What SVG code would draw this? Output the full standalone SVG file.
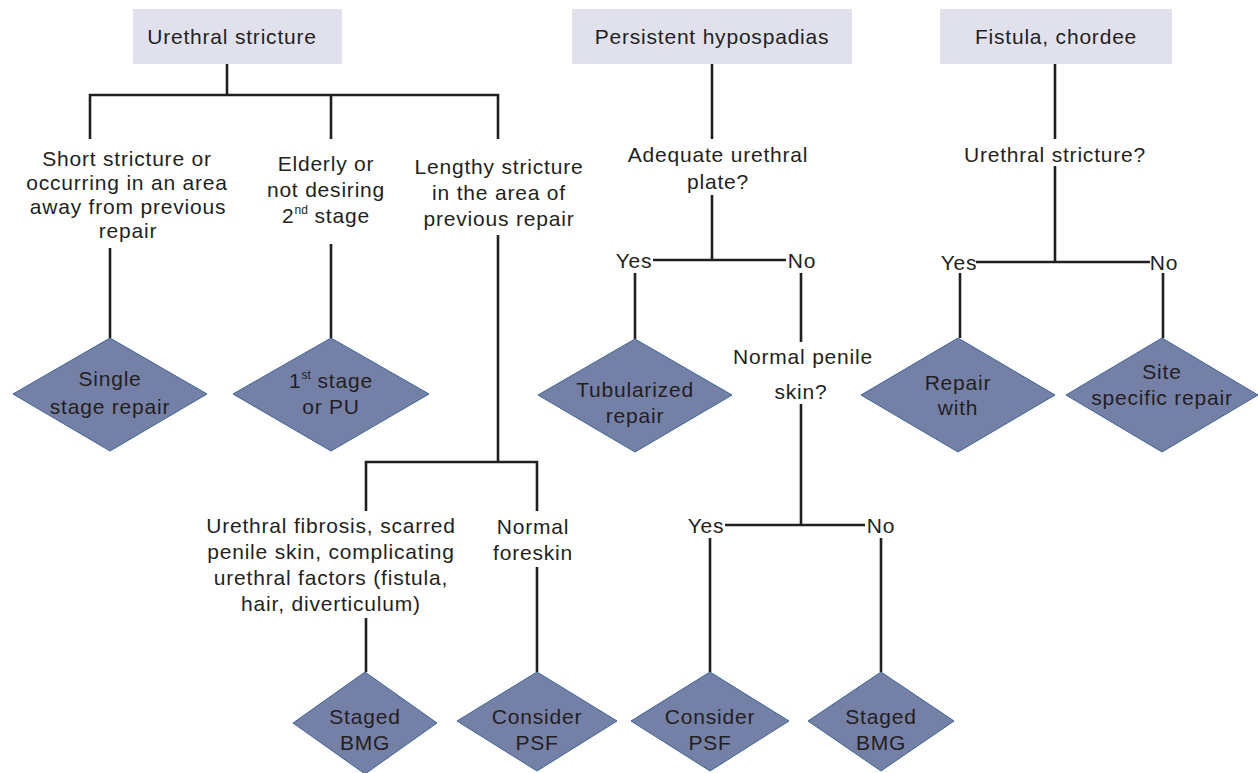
<svg xmlns="http://www.w3.org/2000/svg" width="1258" height="773" viewBox="0 0 1258 773">
<style>
text{font-family:"Liberation Sans",Arial,Helvetica,sans-serif;font-size:21px;fill:#231f20;text-anchor:middle;letter-spacing:0.8px}
.box{fill:#e1e1ee}
.dia{fill:#7580a7;stroke:#3f6497;stroke-width:1}
.con{stroke:#231f20;stroke-width:2.6;fill:none}
.sup{font-size:12px;letter-spacing:0}
</style>
<rect width="1258" height="773" fill="#ffffff"/>
<g id="connectors" class="con">
<path d="M227 64V95M90 139V95H498V139M331 95V139"/>
<path d="M110 248V338M331 244V338M498 235V462"/>
<path d="M366 511V462H537V511M366 618V672M537 567V672"/>
<path d="M712 64V139M712 195V260M653 260H786M635 273V339M801 273V342M801 404V525M725 525H865M710 538V672M881 538V672"/>
<path d="M1055 64V139M1055 166V262M976 262H1150M960 273V338M1163 273V338"/>
</g>
<g id="n_urethral_stricture"><rect class="box" x="133" y="9" width="209" height="55"/><text x="232" y="44">Urethral stricture</text></g>
<g id="n_persistent"><rect class="box" x="572" y="9" width="280" height="55"/><text x="712" y="44">Persistent hypospadias</text></g>
<g id="n_fistula"><rect class="box" x="940" y="9" width="232" height="55"/><text x="1056" y="44">Fistula, chordee</text></g>
<g id="n_short"><text x="127" y="166">Short stricture or</text><text x="127" y="190">occurring in an area</text><text x="128" y="214">away from previous</text><text x="128" y="238">repair</text></g>
<g id="n_elderly"><text x="326" y="171">Elderly or</text><text x="326" y="197">not desiring</text><text x="326" y="223">2<tspan class="sup" dy="-9">nd</tspan><tspan dy="9">  stage</tspan></text></g>
<g id="n_lengthy"><text x="499" y="174">Lengthy stricture</text><text x="499" y="200">in the area of</text><text x="499" y="226">previous repair</text></g>
<g id="n_single"><polygon class="dia" points="110,338 207,394 110,451 13,394"/><text x="110" y="386">Single</text><text x="110" y="414">stage repair</text></g>
<g id="n_first"><polygon class="dia" points="331,338 429,394 331,451 233,394"/><text x="331" y="388">1<tspan class="sup" dy="-9">st</tspan><tspan dy="9"> stage</tspan></text><text x="331" y="414">or PU</text></g>
<g id="n_fibrosis"><text x="331" y="533">Urethral fibrosis, scarred</text><text x="331" y="559">penile skin, complicating</text><text x="331" y="585">urethral factors (fistula,</text><text x="331" y="611">hair, diverticulum)</text></g>
<g id="n_foreskin"><text x="533" y="534">Normal</text><text x="533" y="560">foreskin</text></g>
<g id="n_staged1"><polygon class="dia" points="365,672 437,723 365,774 293,723"/><text x="365" y="724">Staged</text><text x="365" y="750">BMG</text></g>
<g id="n_psf1"><polygon class="dia" points="537,672 617,721 537,771 457,721"/><text x="537" y="724">Consider</text><text x="537" y="750">PSF</text></g>
<g id="n_adequate"><text x="718" y="162">Adequate urethral</text><text x="718" y="189">plate?</text></g>
<g id="n_yes1"><text x="634" y="268">Yes</text></g>
<g id="n_no1"><text x="802" y="268">No</text></g>
<g id="n_tubularized"><polygon class="dia" points="635,339 732,395 635,452 538,395"/><text x="635" y="397">Tubularized</text><text x="635" y="423">repair</text></g>
<g id="n_penile"><text x="803" y="364">Normal penile</text><text x="801" y="399">skin?</text></g>
<g id="n_yes2"><text x="706" y="533">Yes</text></g>
<g id="n_no2"><text x="881" y="533">No</text></g>
<g id="n_psf2"><polygon class="dia" points="710,672 789,721 710,771 631,721"/><text x="710" y="724">Consider</text><text x="710" y="750">PSF</text></g>
<g id="n_staged2"><polygon class="dia" points="881,672 954,721 881,771 808,721"/><text x="881" y="724">Staged</text><text x="881" y="750">BMG</text></g>
<g id="n_stricture_q"><text x="1055" y="162">Urethral stricture?</text></g>
<g id="n_yes3"><text x="959" y="270">Yes</text></g>
<g id="n_no3"><text x="1164" y="270">No</text></g>
<g id="n_repair_with"><polygon class="dia" points="958,338 1055,395 958,452 861,395"/><text x="958" y="390">Repair</text><text x="958" y="415">with</text></g>
<g id="n_site"><polygon class="dia" points="1162,338 1258,395 1162,452 1066,395"/><text x="1162" y="379">Site</text><text x="1162" y="405">specific repair</text></g>
</svg>
